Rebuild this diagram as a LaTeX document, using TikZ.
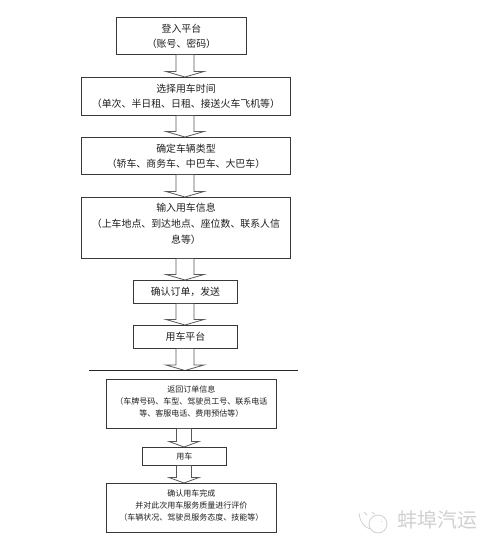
\documentclass[tikz,border=0pt]{standalone}
\usepackage{fontspec}
\setmainfont{Noto Sans CJK SC}
\usetikzlibrary{positioning,calc}
\tikzset{
  x=1pt,y=-1pt,
  box/.style={draw=black!78,line width=0.9pt,fill=white,inner sep=0pt,align=center,text=black!88,anchor=north west},
  big/.style={font=\fontsize{9.9}{15}\selectfont},
  tall/.style={font=\fontsize{9.9}{16}\selectfont},
  small/.style={font=\fontsize{8}{12}\selectfont},
  blockarrow/.style={draw=black!65,line width=0.8pt,fill=white,line join=miter},
  rule/.style={draw=black!85,line width=1pt},
  mark text/.style={text=black!18,font=\fontsize{20}{21}\selectfont,inner sep=0pt,anchor=west},
  mark line/.style={draw=black!18,line width=0.8pt},
}
% from, to, axis x, shaft half-width, head half-width
\newcommand{\blockarr}[5]{%
  \path let \p1=(#1.south),\p2=(#2) in
    [blockarrow] (#3-#4,\y1) -- (#3-#4,\y2+5.5) -- (#3-#5,\y2+5.5)
    -- (#3,\y2) -- (#3+#5,\y2+5.5) -- (#3+#4,\y2+5.5) -- (#3+#4,\y1);
}
\begin{document}
\begin{tikzpicture}
\useasboundingbox[fill=white] (0,0) rectangle (490,548);
\node[box,big,minimum width=130pt,minimum height=37pt] (login) at (116,17) {登入平台\\（账号、密码）};
\node[box,big,minimum width=209pt,minimum height=38pt] (time) at (81,77) {选择用车时间\\（单次、半日租、日租、接送火车飞机等）};
\node[box,big,minimum width=209pt,minimum height=37pt] (type) at (81,137) {确定车辆类型\\（轿车、商务车、中巴车、大巴车）};
\node[box,tall,minimum width=209pt,minimum height=61pt] (info) at (81,197) {输入用车信息\\（上车地点、到达地点、座位数、联系人信\\息等）\\[-7pt]\mbox{}};
\node[box,big,minimum width=104pt,minimum height=23pt] (confirm) at (133,280) {确认订单，发送};
\node[box,big,minimum width=104pt,minimum height=23pt] (platform) at (133,325) {用车平台};
\node[box,small,minimum width=170pt,minimum height=49pt] (back) at (106,379) {返回订单信息\\（车牌号码、车型、驾驶员工号、联系电话\\等、客服电话、费用预估等）\\[-7pt]\mbox{}};
\node[box,small,minimum width=84pt,minimum height=18pt] (use) at (142,447) {用车};
\node[box,small,minimum width=170pt,minimum height=49pt] (done) at (106,483) {确认用车完成\\并对此次用车服务质量进行评价\\（车辆状况、驾驶员服务态度、技能等）\\[-7pt]\mbox{}};
\coordinate (ruleL) at (89,370.5);
\coordinate (ruleR) at (298,370.5);
\coordinate (ruleM) at (185,370.5);
\blockarr{login}{time.north}{185}{9}{19}
\blockarr{time}{type.north}{185}{9}{19}
\blockarr{type}{info.north}{185}{9}{19}
\blockarr{info}{confirm.north}{185}{9}{19}
\blockarr{confirm}{platform.north}{185}{9}{19}
\blockarr{platform}{ruleM}{185}{9}{19}
\blockarr{back}{use.north}{184}{7.5}{15}
\blockarr{use}{done.north}{184}{7.5}{15}
\draw[rule] (ruleL) -- (ruleR);
% watermark
\node[mark text] (brand) at (397,520) {蚌埠汽运};
\draw[mark line] (378,524) circle[radius=9];
\draw[mark line] (359,513) .. controls (360,522) and (364,527) .. (370,529);
\draw[mark line] (364,512) -- (367,515);
\draw[mark line] (372,512) -- (375,514);
\draw[mark line] (381,521) -- (382,521);
\end{tikzpicture}
\end{document}
